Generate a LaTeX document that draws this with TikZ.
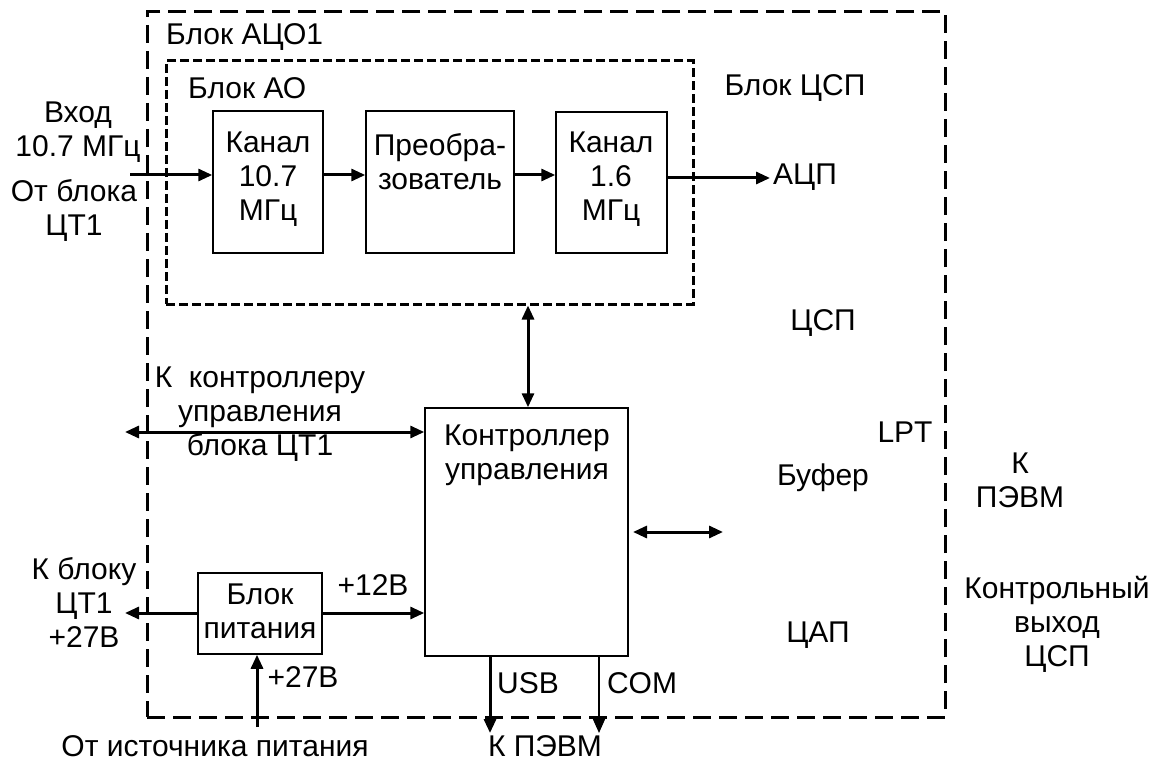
\documentclass[tikz,border=0pt]{standalone}
\usepackage{fontspec}
\setmainfont{Liberation Sans}
\usetikzlibrary{arrows.meta}
\begin{document}
\begin{tikzpicture}[x=1pt,y=-1pt,
  every node/.style={font=\fontsize{30}{34}\selectfont, inner sep=0pt, align=center},
  box/.style={draw, line width=1.5pt},
  conn/.style={line width=3pt, -{Triangle[length=14pt,width=12pt]}},
  thinconn/.style={line width=1.5pt, -{Triangle[length=14pt,width=12pt]}},
  bconn/.style={line width=3pt, {Triangle[length=14pt,width=12pt]}-{Triangle[length=14pt,width=12pt]}},
  outerdash/.style={draw, line width=3pt, dash pattern=on 18pt off 8pt},
  innerdash/.style={draw, line width=3pt, dash pattern=on 9pt off 4pt}]

\useasboundingbox (0,0) rectangle (1161,762);

% frames
\node[outerdash, minimum width=798pt, minimum height=705pt] (outer) at (546,364.5) {};
\node[innerdash, minimum width=527pt, minimum height=243pt] (ao) at (429.5,182.5) {};
\node[anchor=west] (lblaco) at (166,37) {Блок АЦО1};
\node[anchor=west] (lblao) at (188,88) {Блок АО};
\node (lblcsp) at (795,88) {Блок ЦСП};

% boxes
\node[box, minimum width=110pt, minimum height=142pt] (k107) at (268,182) {};
\node[box, minimum width=148pt, minimum height=142pt] (preob) at (440,182) {};
\node[box, minimum width=111pt, minimum height=141pt] (k16) at (611.5,182.5) {};
\node[box, minimum width=203pt, minimum height=248pt] (ctrl) at (526.5,532) {};
\node[box, minimum width=124pt, minimum height=81pt] (pw) at (260,613.5) {};

% box texts
\node (k107t) at (268,179) {Канал\\10.7\\МГц};
\node (preobt) at (440,162) {Преобра-\\зователь};
\node (k16t) at (611,179) {Канал\\1.6\\МГц};
\node (ctrlt) at (527,455) {Контроллер\\управления};
\node (pwt) at (260,611) {Блок\\питания};

% free labels
\node (adc) at (805,177) {АЦП};
\node (dsp) at (823,323) {ЦСП};
\node (lpt) at (905,432) {LPT};
\node (buf) at (823,478) {Буфер};
\node (dac) at (818,635) {ЦАП};
\node (pc1) at (1020,480) {К\\ПЭВМ};
\node (ctlout) at (1057,624) {Контрольный\\выход\\ЦСП};
\node (inlbl) at (78,132) {Вход\\10.7 МГц};
\node (fromct) at (74,210) {От блока\\ЦТ1};
\node (tocontr) at (260,414) {К~~контроллеру\\управления\\блока ЦТ1};
\node (v12) at (373,585) {+12В};
\node (v27) at (303,677) {+27В};
\node (toct) at (84,602) {К блоку\\ЦТ1\\+27В};
\node (fromsrc) at (215,746) {От источника питания};
\node (usbl) at (528,683) {USB};
\node (coml) at (642,683) {COM};
\node (pc2) at (545,746) {К ПЭВМ};

% free ends
\coordinate (in) at (130,175);
\coordinate (adcend) at (770,178);
\coordinate (lend) at (125,432);
\coordinate (r1) at (633,532);
\coordinate (r2) at (723,532);
\coordinate (pwl) at (125,613);
\coordinate (src) at (257,727);
\coordinate (usbend) at (490,733);
\coordinate (comend) at (599,733);

% connectors
\draw[conn] (in) -- (in -| k107.west);
\draw[conn] (k107.east |- in) -- (preob.west |- in);
\draw[conn] (preob.east |- in) -- (k16.west |- in);
\draw[conn] (k16.east |- adcend) -- (adcend);
\draw[bconn] (ao.south -| 528,0) -- (ctrl.north -| 528,0);
\draw[bconn] (lend) -- (lend -| ctrl.west);
\draw[bconn] (r1) -- (r2);
\draw[conn] (pw.west |- pwl) -- (pwl);
\draw[conn] (pw.east |- pwl) -- (ctrl.west |- pwl);
\draw[conn] (src) -- (src |- pw.south);
\draw[conn] (usbend |- ctrl.south) -- (usbend);
\draw[thinconn] (comend |- ctrl.south) -- (comend);
\end{tikzpicture}
\end{document}
